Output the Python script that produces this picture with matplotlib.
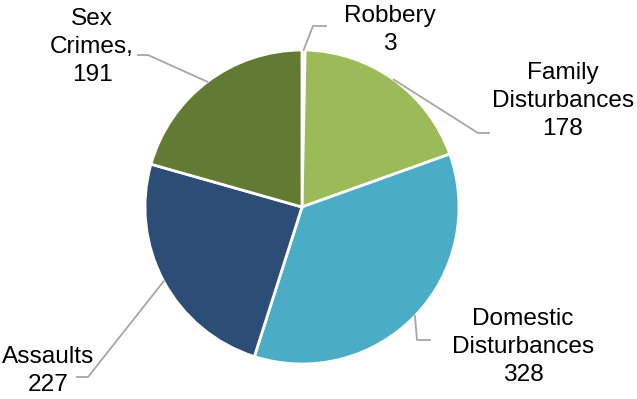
import numpy as np
import matplotlib.pyplot as plt

plt.rcParams['font.family'] = ['Liberation Sans', 'DejaVu Sans']

# offence counts, clockwise from 12 o'clock
categories = ['Robbery', 'Family\nDisturbances', 'Domestic\nDisturbances', 'Assaults', 'Sex\nCrimes,']
counts = [3, 178, 328, 227, 191]
colors = ['#9BBB59', '#9BBB59', '#4BACC6', '#2C4D75', '#637A33']

# label placement (pixel coords, y from top): text centre and elbow of the leader line
label_xy = [(390, 30), (563, 101), (523, 347), (48, 371), (92, 47)]
elbow = [((313, 26), (326, 26)), ((478, 133), (489, 133)), ((417, 340), (430, 340)),
         ((88, 377), (77, 377)), ((148, 55), (138, 55))]

W, H = 637, 399
fig = plt.figure(figsize=(W / 100, H / 100), dpi=100)
ax = fig.add_axes([0, 0, 1, 1])

cx, cy, r = 302, H - 207, 157
wedges, _ = ax.pie(counts, colors=colors, startangle=90, counterclock=False,
                   center=(cx, cy), radius=r, frame=True,
                   wedgeprops=dict(edgecolor='white', linewidth=2))
ax.set_xlim(0, W)
ax.set_ylim(0, H)
ax.axis('off')

for w, name, n, (tx, ty), (p1, p2) in zip(wedges, categories, counts, label_xy, elbow):
    ang = np.deg2rad((w.theta1 + w.theta2) / 2)
    sx, sy = cx + r * np.cos(ang), cy + r * np.sin(ang)
    ax.plot([sx, p1[0], p2[0]], [sy, H - p1[1], H - p2[1]], color='#A6A6A6', lw=1.3)
    ax.text(tx, H - ty, f'{name}\n{n}', ha='center', va='center', fontsize=17.6,
            linespacing=1.36, color='black')

fig.savefig('out.png', dpi=100)
